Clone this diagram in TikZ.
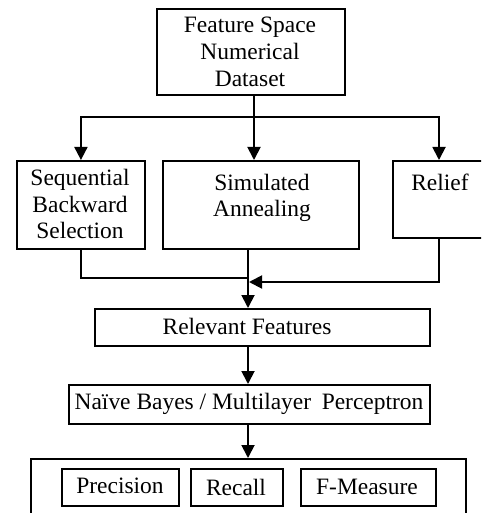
\documentclass[tikz,border=0pt]{standalone}
\usepackage{fontspec}
\setmainfont{Liberation Serif}
\usetikzlibrary{arrows.meta,calc}
\begin{document}
\begin{tikzpicture}[x=0.75pt,y=-0.75pt,
  box/.style={draw,line width=1.4pt,inner sep=0pt,anchor=north west},
  txt/.style={font=\fontsize{17.6}{20}\selectfont,align=center,inner sep=0pt},
  conn/.style={line width=1.4pt},
  arr/.style={line width=1.4pt,-{Triangle[length=9.75pt,width=9.75pt]}}]
\clip (0,0) rectangle (481,513);
\useasboundingbox (0,0) rectangle (481,513);
% boxes
\node[box,minimum width=188*0.75pt,minimum height=86*0.75pt] (top) at (156,8) {};
\node[txt] at (250,52) {Feature Space\\Numerical\\Dataset};
\node[box,minimum width=128*0.75pt,minimum height=88*0.75pt] (sbs) at (16,160) {};
\node[txt] at (80,204) {Sequential\\Backward\\Selection};
\node[box,minimum width=196*0.75pt,minimum height=88*0.75pt] (sa) at (162,160) {};
\node[txt] at (262,198) {Simulated\\Annealing};
\node[box,minimum width=120*0.75pt,minimum height=77*0.75pt] (relief) at (392,160) {};
\node[txt] at (440,182) {Relief};
\node[box,minimum width=335*0.75pt,minimum height=37*0.75pt] (rf) at (94,308) {};
\node[txt] at (247,326) {Relevant Features};
\node[box,minimum width=361*0.75pt,minimum height=39*0.75pt] (nb) at (68,384) {};
\node[txt] at (249,404) {Naïve Bayes / Multilayer\hspace{0.2em} Perceptron};
\node[box,minimum width=435*0.75pt,minimum height=80*0.75pt] (out) at (30,458) {};
\node[box,minimum width=117*0.75pt,minimum height=37*0.75pt] (prec) at (61,468) {};
\node[txt] at (120,486) {Precision};
\node[box,minimum width=92*0.75pt,minimum height=37*0.75pt] (rec) at (190,468) {};
\node[txt] at (236,487) {Recall};
\node[box,minimum width=135*0.75pt,minimum height=37*0.75pt] (fm) at (300,468) {};
\node[txt] at (367,487) {F-Measure};
% junctions
\coordinate (j) at (254,117);
\coordinate (rx) at (439,117);
\coordinate (m) at (248,278);
\coordinate (r) at (249,282);
% connectors
\draw[arr] (top.south -| j) -- (sa.north -| j);
\draw[arr] (j) -| (sbs.north);
\draw[arr] (j) -- (rx) -- (relief.north -| rx);
\draw[conn] (sbs.south) |- (m);
\draw[arr] (sa.south -| m) -- (rf.north -| m);
\draw[arr] (relief.south -| rx) |- (r);
\draw[arr] (rf.south -| m) -- (nb.north -| m);
\draw[arr] (nb.south -| m) -- (out.north -| m);
\end{tikzpicture}
\end{document}
